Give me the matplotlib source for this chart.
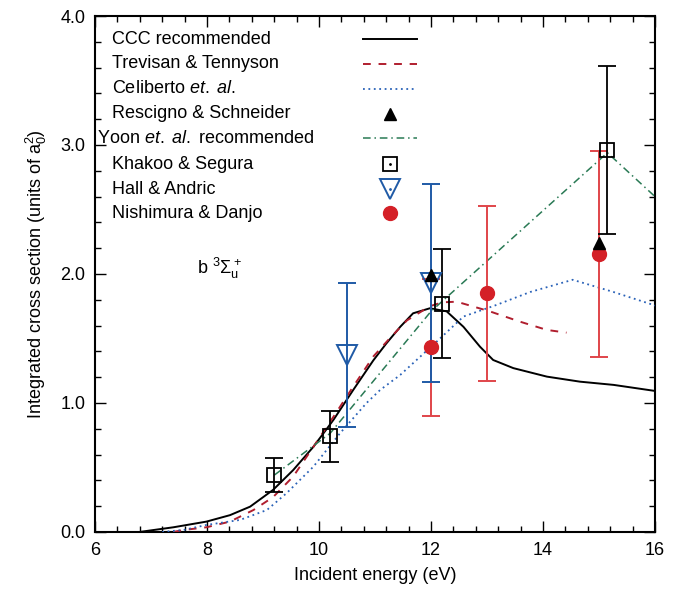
import matplotlib
matplotlib.use("Agg")
import matplotlib.pyplot as plt
from matplotlib.ticker import MultipleLocator

plt.rcParams['font.family'] = ['Liberation Sans', 'DejaVu Sans']
plt.rcParams['mathtext.fontset'] = 'custom'
plt.rcParams['mathtext.rm'] = 'Liberation Sans'
plt.rcParams['mathtext.it'] = 'Liberation Sans:italic'

# CCC recommended
ccc_x = [6.8, 7.4, 7.99, 8.41, 8.77, 9.18, 9.54, 9.90, 10.26, 10.61, 10.97, 11.2, 11.45, 11.68, 11.98,
         12.28, 12.58, 12.875, 13.11, 13.47, 14.07, 14.66, 15.26, 15.97, 16.0]
ccc_y = [0.0, 0.036, 0.08, 0.13, 0.196, 0.326, 0.48, 0.66, 0.87, 1.10, 1.33, 1.46, 1.59, 1.695, 1.734,
         1.71, 1.59, 1.436, 1.333, 1.27, 1.204, 1.165, 1.14, 1.095, 1.093]

# Trevisan & Tennyson
tt_x = [7.4, 7.58, 7.99, 8.41, 8.83, 9.18, 9.54, 9.90, 10.26, 10.61, 10.97, 11.24, 11.57, 11.98,
        12.2, 12.46, 13.05, 13.59, 14.07, 14.42]
tt_y = [0.0, 0.015, 0.036, 0.08, 0.17, 0.27, 0.43, 0.66, 0.894, 1.126, 1.36, 1.49, 1.64, 1.75,
        1.78, 1.785, 1.71, 1.63, 1.566, 1.545]

# Celiberto et al.
cel_x = [7.2, 7.58, 7.99, 8.59, 9.07, 9.42, 9.90, 10.375, 10.85, 11.09, 11.45, 12.1, 12.58, 13.17,
         13.77, 14.53, 15.26, 15.97, 16.0]
cel_y = [0.0, 0.015, 0.054, 0.093, 0.17, 0.30, 0.506, 0.765, 1.0, 1.10, 1.217, 1.475, 1.67, 1.76,
         1.86, 1.955, 1.86, 1.76, 1.755]

# Yoon et al. recommended
yoon_x = [9.2, 10.2, 12.0, 15.15, 16.0]
yoon_y = [0.44, 0.765, 1.71, 2.94, 2.60]

# Rescigno & Schneider
rs_x = [12.0, 15.0]
rs_y = [1.99, 2.24]

# Khakoo & Segura
ks_x = [9.2, 10.2, 12.2, 15.15]
ks_y = [0.44, 0.74, 1.77, 2.96]
ks_err = [0.13, 0.20, 0.42, 0.65]

# Hall & Andric
ha_x = [10.5, 12.0]
ha_y = [1.37, 1.93]
ha_err = [0.56, 0.77]

# Nishimura & Danjo
nd_x = [12.0, 13.0, 15.0]
nd_y = [1.43, 1.85, 2.155]
nd_err = [0.53, 0.68, 0.80]

legend_labels = ['CCC recommended', 'Trevisan & Tennyson', r'Celiberto $\mathit{et.}\;\mathit{al.}$',
                 'Rescigno & Schneider', r'Yoon $\mathit{et.}\;\mathit{al.}$ recommended', 'Khakoo & Segura',
                 'Hall & Andric', 'Nishimura & Danjo']

c_red = '#b01e2e'
c_blue = '#2a62b8'
c_green = '#2a7a55'
c_ha = '#1f5aa6'
c_nd = '#d42027'
c_nd_err = '#e0454a'

ls_tt = (0, (4, 4))
ls_cel = (0, (1, 2))
ls_yoon = (0, (5, 2.5, 1, 2.5))

fig = plt.figure(figsize=(6.85, 5.93), dpi=100)
ax = fig.add_axes([0.1387, 0.103, 0.8175, 0.870])

ax.plot(ccc_x, ccc_y, color='black', lw=1.4, zorder=3)
ax.plot(tt_x, tt_y, color=c_red, lw=1.4, ls=ls_tt, zorder=3)
ax.plot(cel_x, cel_y, color=c_blue, lw=1.3, ls=ls_cel, zorder=3)
ax.plot(yoon_x, yoon_y, color=c_green, lw=1.1, ls=ls_yoon, zorder=3)

ax.errorbar(nd_x, nd_y, yerr=nd_err, fmt='none', ecolor=c_nd_err, elinewidth=1.4, capsize=6.5, capthick=1.4, zorder=4)
ax.plot(nd_x, nd_y, 'o', color=c_nd, ms=10, zorder=6)

ax.errorbar(ha_x, ha_y, yerr=ha_err, fmt='none', ecolor=c_ha, elinewidth=1.4, capsize=6.5, capthick=1.4, zorder=5)
ax.plot(ha_x, ha_y, 'v', mfc='none', mec=c_ha, mew=1.4, ms=14, zorder=6)

ax.errorbar(ks_x, ks_y, yerr=ks_err, fmt='none', ecolor='black', elinewidth=1.3, capsize=6.5, capthick=1.3, zorder=5)
ax.plot(ks_x, ks_y, 's', mfc='none', mec='black', mew=1.3, ms=10.5, zorder=6)

ax.plot(rs_x, rs_y, '^', color='black', ms=9, zorder=7)

ax.text(7.82, 2.0, r'b $^3\Sigma_\mathrm{u}^+$', fontsize=13, ha='left', va='baseline')

ax.set_xlim(6, 16)
ax.set_ylim(0, 4)
ax.xaxis.set_major_locator(MultipleLocator(2))
ax.xaxis.set_minor_locator(MultipleLocator(0.4))
ax.yaxis.set_major_locator(MultipleLocator(1))
ax.yaxis.set_minor_locator(MultipleLocator(0.2))
ax.set_yticks([0, 1, 2, 3, 4])
ax.set_yticklabels(['0.0', '1.0', '2.0', '3.0', '4.0'])
ax.tick_params(which='both', direction='in', top=True, right=True, labelsize=13, width=1.0)
ax.tick_params(which='major', length=8, pad=7)
ax.tick_params(which='minor', length=4)
for s in ax.spines.values():
    s.set_linewidth(1.5)

ax.set_xlabel('Incident energy (eV)', fontsize=13, labelpad=6)
ax.set_ylabel(r'Integrated cross section (units of a$_0^2$)', fontsize=13, labelpad=8)

# manual key (gnuplot-style: labels left, samples right)
row_y = [0.955, 0.907, 0.859, 0.811, 0.763, 0.713, 0.664, 0.618]
lab_x = [0.030, 0.030, 0.030, 0.030, 0.004, 0.030, 0.030, 0.030]
for lbl, yy, xx in zip(legend_labels, row_y, lab_x):
    ax.text(xx, yy, lbl, transform=ax.transAxes, fontsize=13, ha='left', va='center')

hx0, hx1, hm = 0.479, 0.575, 0.527
tr = ax.transAxes
ax.plot([hx0, hx1], [row_y[0]] * 2, color='black', lw=1.4, transform=tr, clip_on=False)
ax.plot([hx0, hx1], [row_y[1]] * 2, color=c_red, lw=1.4, ls=ls_tt, transform=tr, clip_on=False)
ax.plot([hx0, hx1], [row_y[2]] * 2, color=c_blue, lw=1.3, ls=ls_cel, transform=tr, clip_on=False)
ax.plot([hm], [row_y[3]], '^', color='black', ms=9, transform=tr, clip_on=False)
ax.plot([hx0, hx1], [row_y[4]] * 2, color=c_green, lw=1.1, ls=ls_yoon, transform=tr, clip_on=False)
ax.plot([hm], [row_y[5]], 's', mfc='none', mec='black', mew=1.3, ms=10.5, transform=tr, clip_on=False)
ax.plot([hm], [row_y[5]], '.', color='black', ms=2, transform=tr, clip_on=False)
ax.plot([hm], [row_y[6]], 'v', mfc='none', mec=c_ha, mew=1.4, ms=14, transform=tr, clip_on=False)
ax.plot([hm], [row_y[6]], '.', color=c_ha, ms=2, transform=tr, clip_on=False)
ax.plot([hm], [row_y[7]], 'o', color=c_nd, ms=10, transform=tr, clip_on=False)

fig.savefig('out.png', dpi=100)
